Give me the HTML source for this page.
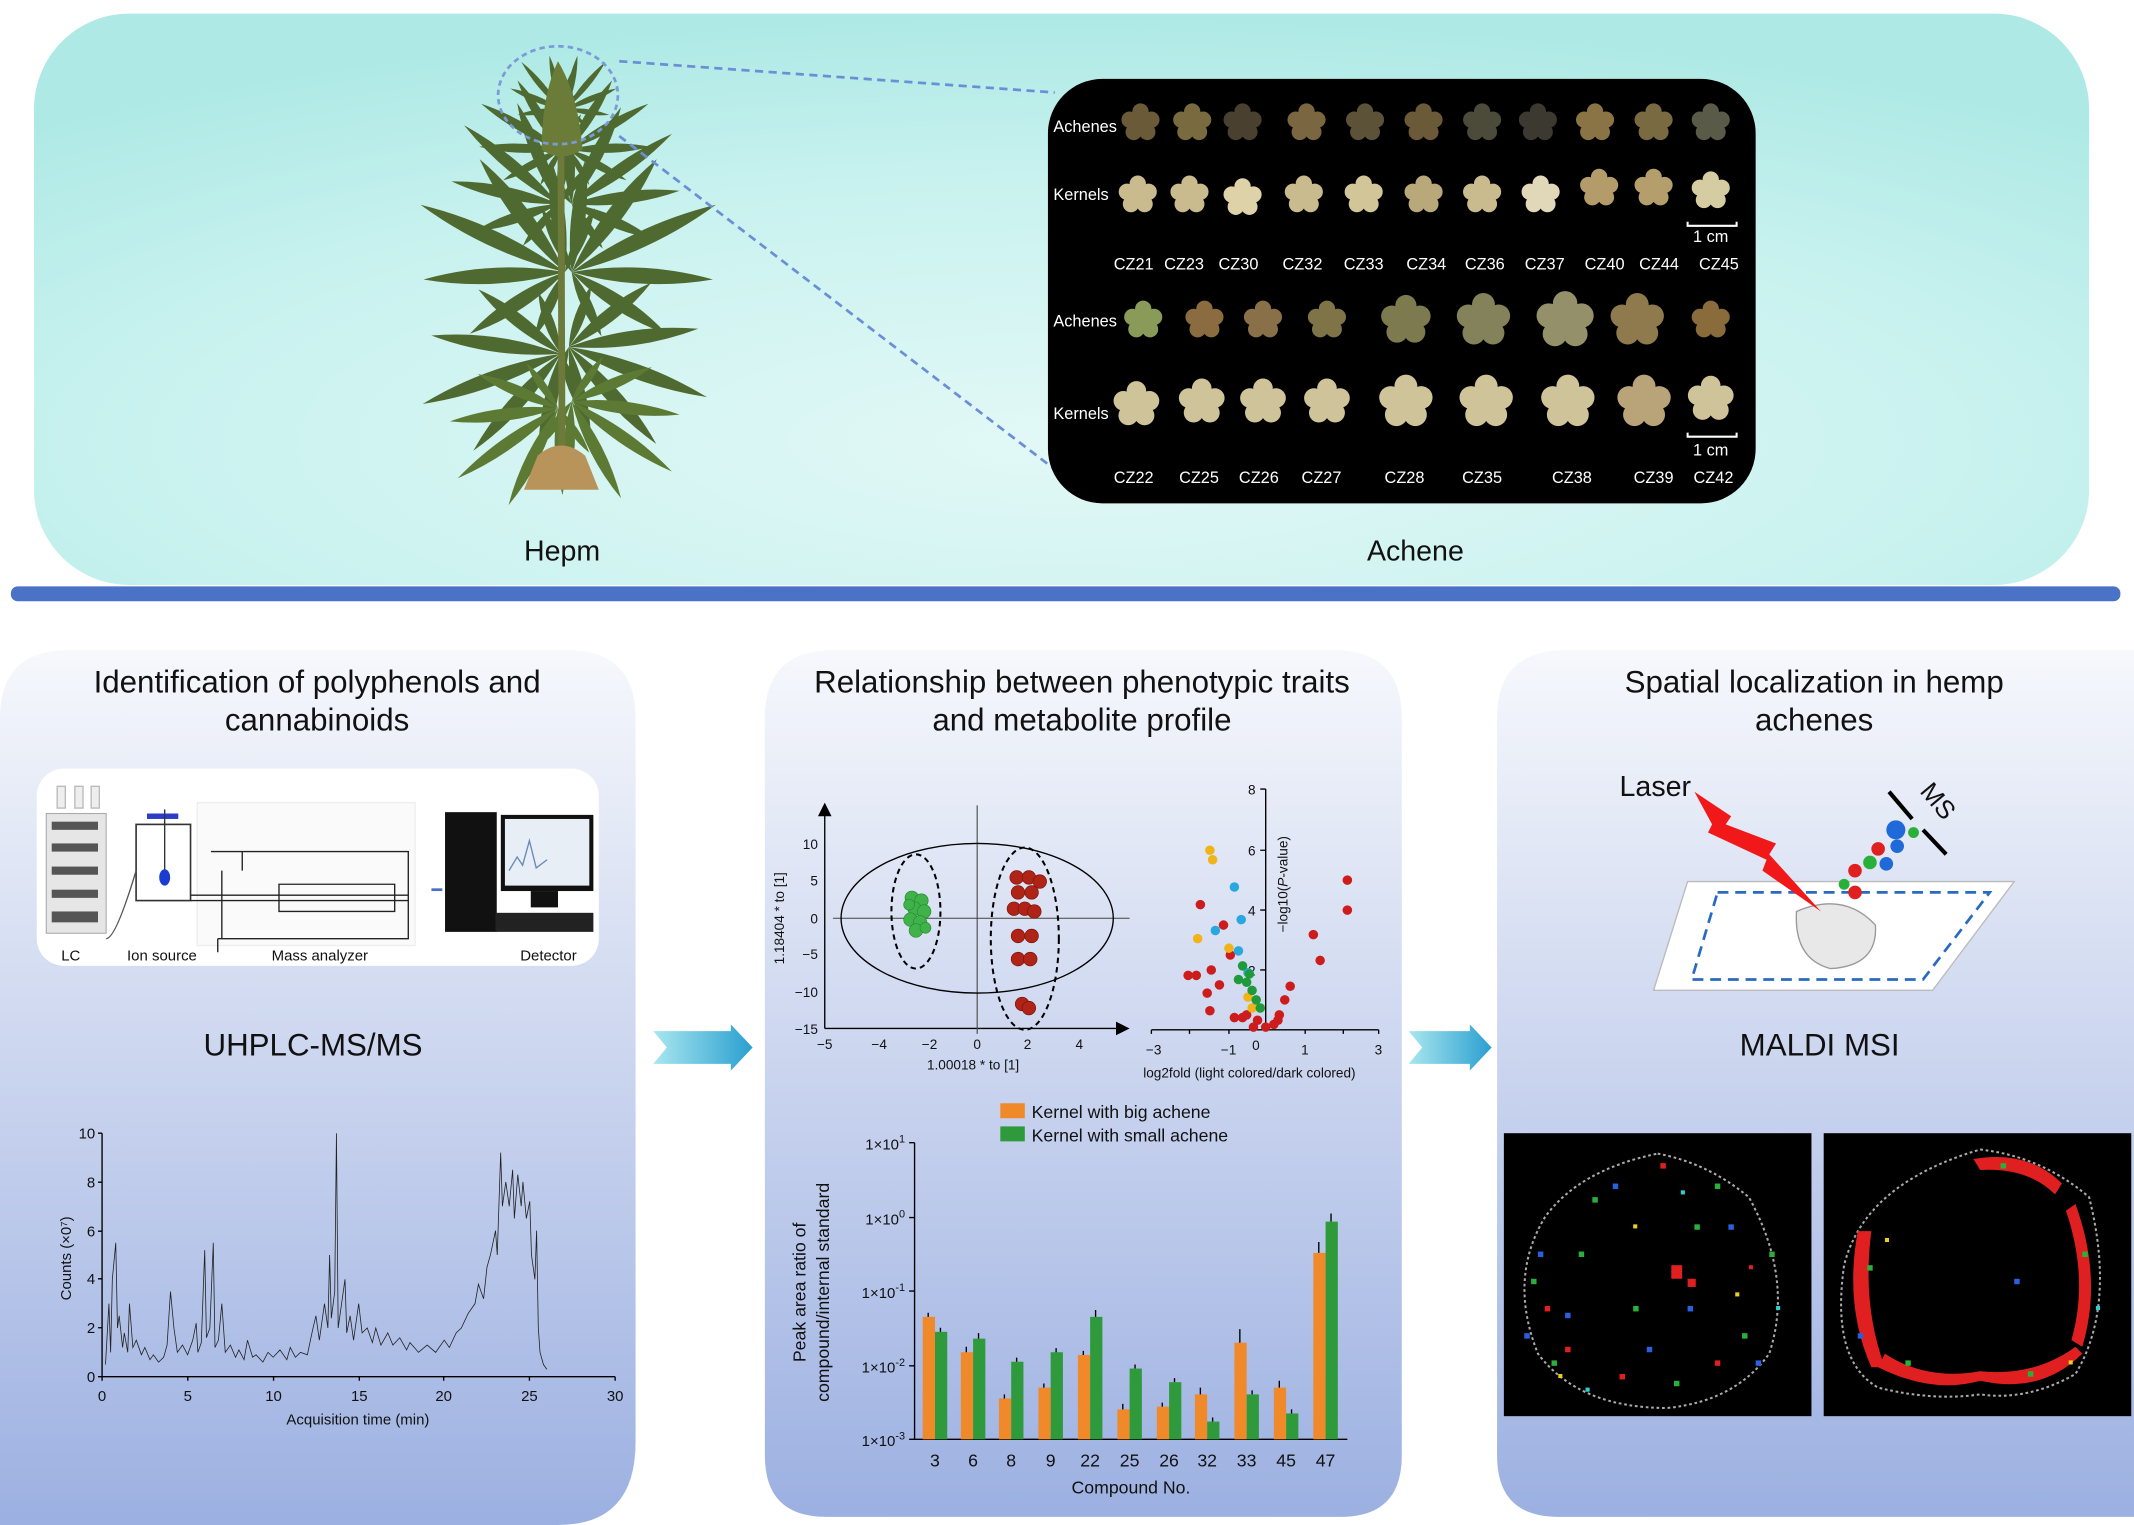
<!DOCTYPE html>
<html><head><meta charset="utf-8"><style>
html,body{margin:0;padding:0;background:#fff;}
svg{display:block;}
text{font-family:"Liberation Sans",Arial,sans-serif;}
</style></head><body>
<svg width="2134" height="1525" viewBox="0 0 1568 1121" preserveAspectRatio="none" xmlns="http://www.w3.org/2000/svg">
<defs>
<radialGradient id="top" cx="0.5" cy="0.75" r="0.75">
<stop offset="0" stop-color="#e2f8f6"/><stop offset="0.6" stop-color="#c9f2ef"/><stop offset="1" stop-color="#aee9e5"/>
</radialGradient>
<linearGradient id="bot" x1="0" y1="0" x2="0" y2="1">
<stop offset="0" stop-color="#f6f8fc"/><stop offset="0.35" stop-color="#d6def2"/><stop offset="1" stop-color="#9cb0e1"/>
</linearGradient>
<linearGradient id="arr" x1="0" y1="0" x2="1" y2="0">
<stop offset="0" stop-color="#a9e7ef"/><stop offset="1" stop-color="#2a9fd0"/>
</linearGradient>
<g id="leaf">
<path d="M0,0 Q9,-45 0,-90 Q-9,-45 0,0Z"/>
<path d="M0,0 Q9,-40 0,-80 Q-9,-40 0,0Z" transform="rotate(-28)"/>
<path d="M0,0 Q9,-40 0,-80 Q-9,-40 0,0Z" transform="rotate(28)"/>
<path d="M0,0 Q8,-32 0,-64 Q-8,-32 0,0Z" transform="rotate(-58)"/>
<path d="M0,0 Q8,-32 0,-64 Q-8,-32 0,0Z" transform="rotate(58)"/>
<path d="M0,0 Q6,-20 0,-40 Q-6,-20 0,0Z" transform="rotate(-90)"/>
<path d="M0,0 Q6,-20 0,-40 Q-6,-20 0,0Z" transform="rotate(90)"/>
</g>
<g id="flw"><circle r="7"/><circle cx="0" cy="-8" r="6"/><circle cx="8" cy="-2" r="6"/><circle cx="5" cy="7" r="6"/><circle cx="-5" cy="7" r="6"/><circle cx="-8" cy="-2" r="6"/></g>
</defs>

<rect x="25" y="10" width="1510" height="420" rx="70" fill="url(#top)"/>
<rect x="8" y="431" width="1550" height="11" rx="5" fill="#4a72c6"/>

<g fill="#4f6a30">
<use href="#leaf" transform="translate(415,200) rotate(-65) scale(1.3)"/>
<use href="#leaf" transform="translate(420,200) rotate(65) scale(1.3)"/>
<use href="#leaf" transform="translate(412,260) rotate(-110) scale(1.2)"/>
<use href="#leaf" transform="translate(418,255) rotate(110) scale(1.2)"/>
<use href="#leaf" transform="translate(410,150) rotate(-50) scale(1.0)"/>
<use href="#leaf" transform="translate(420,150) rotate(55) scale(1.0)"/>
<use href="#leaf" transform="translate(412,110) rotate(-60) scale(0.75)"/>
<use href="#leaf" transform="translate(418,110) rotate(60) scale(0.75)"/>
<use href="#leaf" transform="translate(410,300) rotate(-125) scale(1.0)" fill="#5d7a35"/>
<use href="#leaf" transform="translate(420,295) rotate(125) scale(1.0)" fill="#5d7a35"/>
<use href="#leaf" transform="translate(412,80) rotate(-40) scale(0.5)"/>
<use href="#leaf" transform="translate(416,80) rotate(40) scale(0.5)"/>
</g>
<path d="M413,345 L412,60" stroke="#6d7a3a" stroke-width="5"/>
<path d="M410,45 Q425,70 428,110 Q412,120 398,110 Q398,70 410,45Z" fill="#6b7c38"/>
<path d="M395,335 Q412,320 430,335 L440,360 L385,360Z" fill="#b8935a"/>
<ellipse cx="410" cy="70" rx="44" ry="36" fill="none" stroke="#7a9bd8" stroke-width="2" stroke-dasharray="4,3"/>
<path d="M455,45 L775,68" stroke="#6b8fd6" stroke-width="2" stroke-dasharray="6,4"/>
<path d="M455,100 L775,345" stroke="#6b8fd6" stroke-width="2" stroke-dasharray="6,4"/>
<text x="413" y="412" font-size="21" text-anchor="middle" fill="#111">Hepm</text>
<text x="1040" y="412" font-size="21" text-anchor="middle" fill="#111">Achene</text>

<rect x="770" y="58" width="520" height="312" rx="40" fill="#000"/>
<g font-size="12" fill="#fff">
<text x="774" y="97">Achenes</text><text x="774" y="147">Kernels</text>
<text x="774" y="240">Achenes</text><text x="774" y="308">Kernels</text>
<text x="1244" y="178">1 cm</text><text x="1244" y="335">1 cm</text>
</g>
<path d="M1240,163 v3 h36 v-3 M1240,318 v3 h36 v-3" stroke="#fff" stroke-width="1.5" fill="none"/>
<g fill="#6a5a38">
<use href="#flw" x="838" y="90"/><use href="#flw" x="876" y="90" fill="#7a6a40"/><use href="#flw" x="913" y="90" fill="#4a4030"/><use href="#flw" x="960" y="90" fill="#7a6640"/><use href="#flw" x="1003" y="90" fill="#5c5238"/><use href="#flw" x="1046" y="90"/><use href="#flw" x="1089" y="90" fill="#4c4a38"/><use href="#flw" x="1130" y="90" fill="#3c3a30"/><use href="#flw" x="1172" y="90" fill="#8a7445"/><use href="#flw" x="1215" y="90" fill="#7a6a42"/><use href="#flw" x="1257" y="90" fill="#5a5a48"/>
</g>
<g fill="#c9bb8e">
<use href="#flw" x="836" y="143"/><use href="#flw" x="874" y="143"/><use href="#flw" x="913" y="145" fill="#ddd2a8"/><use href="#flw" x="958" y="143"/><use href="#flw" x="1002" y="143" fill="#d2c598"/><use href="#flw" x="1046" y="143" fill="#b9a87a"/><use href="#flw" x="1089" y="143"/><use href="#flw" x="1132" y="143" fill="#e0d8b8"/><use href="#flw" x="1175" y="138" fill="#b39c6a"/><use href="#flw" x="1215" y="138" fill="#b49f6c"/><use href="#flw" x="1257" y="140" fill="#d6cca2"/>
</g>
<g fill="#7a7a4c">
<use href="#flw" x="840" y="235" fill="#8a9a58"/><use href="#flw" x="885" y="235" fill="#8a6c40"/><use href="#flw" x="928" y="235" fill="#8a7048"/><use href="#flw" x="975" y="235" fill="#7e7448"/><use href="#flw" x="1033" y="235" transform="translate(1033,235) scale(1.3) translate(-1033,-235)" fill="#7c7a4e"/><use href="#flw" x="1090" y="235" transform="translate(1090,235) scale(1.4) translate(-1090,-235)" fill="#84825a"/><use href="#flw" x="1150" y="235" transform="translate(1150,235) scale(1.5) translate(-1150,-235)" fill="#94906a"/><use href="#flw" x="1203" y="235" transform="translate(1203,235) scale(1.4) translate(-1203,-235)" fill="#8e7a4c"/><use href="#flw" x="1257" y="235" fill="#8a6c3c"/>
</g>
<g fill="#cfc39a">
<use href="#flw" x="835" y="297" transform="translate(835,297) scale(1.2) translate(-835,-297)"/><use href="#flw" x="883" y="295" transform="translate(883,295) scale(1.2) translate(-883,-295)"/><use href="#flw" x="928" y="295" transform="translate(928,295) scale(1.2) translate(-928,-295)"/><use href="#flw" x="975" y="295" transform="translate(975,295) scale(1.2) translate(-975,-295)"/><use href="#flw" x="1033" y="295" transform="translate(1033,295) scale(1.4) translate(-1033,-295)"/><use href="#flw" x="1092" y="295" transform="translate(1092,295) scale(1.4) translate(-1092,-295)"/><use href="#flw" x="1152" y="295" transform="translate(1152,295) scale(1.4) translate(-1152,-295)"/><use href="#flw" x="1208" y="295" transform="translate(1208,295) scale(1.4) translate(-1208,-295)" fill="#b8a478"/><use href="#flw" x="1257" y="293" transform="translate(1257,293) scale(1.2) translate(-1257,-293)"/>
</g>
<g font-size="12" fill="#fff" text-anchor="middle">
<text x="833" y="198">CZ21</text><text x="870" y="198">CZ23</text><text x="910" y="198">CZ30</text><text x="957" y="198">CZ32</text><text x="1002" y="198">CZ33</text><text x="1048" y="198">CZ34</text><text x="1091" y="198">CZ36</text><text x="1135" y="198">CZ37</text><text x="1179" y="198">CZ40</text><text x="1219" y="198">CZ44</text><text x="1263" y="198">CZ45</text>
<text x="833" y="355">CZ22</text><text x="881" y="355">CZ25</text><text x="925" y="355">CZ26</text><text x="971" y="355">CZ27</text><text x="1032" y="355">CZ28</text><text x="1089" y="355">CZ35</text><text x="1155" y="355">CZ38</text><text x="1215" y="355">CZ39</text><text x="1259" y="355">CZ42</text>
</g>

<path d="M0,528 Q0,478 50,478 H417 Q467,478 467,528 V1060 Q467,1121 410,1121 H0Z" fill="url(#bot)"/>
<path d="M612,478 H980 Q1030,478 1030,528 V1070 Q1030,1115 985,1115 H607 Q562,1115 562,1070 V528 Q562,478 612,478Z" fill="url(#bot)"/>
<path d="M1150,478 H1568 V1115 H1145 Q1100,1115 1100,1070 V528 Q1100,478 1150,478Z" fill="url(#bot)"/>
<path d="M480,758 H537 V753 L553,770 L537,787 V782 H480 L490,770Z" fill="url(#arr)"/>
<path d="M1035,758 H1080 V753 L1096,770 L1080,787 V782 H1035 L1045,770Z" fill="url(#arr)"/>

<g font-size="23" fill="#111" text-anchor="middle">
<text x="233" y="509">Identification of polyphenols and</text><text x="233" y="537">cannabinoids</text>
<text x="795" y="509">Relationship between phenotypic traits</text><text x="795" y="537">and metabolite profile</text>
<text x="1333" y="509">Spatial localization in hemp</text><text x="1333" y="537">achenes</text>
<text x="230" y="776">UHPLC-MS/MS</text>
<text x="1337" y="776">MALDI MSI</text>
</g>

<rect x="27" y="565" width="413" height="145" rx="20" fill="#fff"/>
<g fill="#e6e6e6" stroke="#aaa" stroke-width="0.8">
<rect x="34" y="598" width="44" height="88"/>
</g>
<g fill="#555"><rect x="38" y="604" width="34" height="6"/><rect x="38" y="620" width="34" height="6"/><rect x="38" y="637" width="34" height="6"/><rect x="38" y="654" width="34" height="6"/><rect x="38" y="670" width="34" height="8"/></g>
<rect x="42" y="578" width="6" height="16" fill="#eee" stroke="#bbb"/><rect x="55" y="578" width="6" height="16" fill="#eee" stroke="#bbb"/><rect x="67" y="578" width="6" height="16" fill="#eee" stroke="#bbb"/>
<rect x="108" y="598" width="23" height="4" fill="#2a3cc8"/>
<rect x="100" y="606" width="40" height="56" fill="none" stroke="#333" stroke-width="1.2"/>
<line x1="121" y1="595" x2="121" y2="640" stroke="#333"/><ellipse cx="121" cy="645" rx="4" ry="6" fill="#1a3cd0"/>
<path d="M100,640 Q85,690 78,690" fill="none" stroke="#555"/>
<rect x="145" y="590" width="160" height="105" fill="#fafafa" stroke="#eee"/>
<g fill="none" stroke="#222" stroke-width="1">
<path d="M155,626 H300 V690 H160 M160,690 V700 M178,626 V640 M163,640 V690"/>
<path d="M140,658 H300 M140,662 H300"/>
<path d="M205,650 H290 V670 H205Z"/>
</g>
<path d="M317,654 h8" stroke="#4a6fc8" stroke-width="2"/>
<rect x="327" y="597" width="38" height="88" fill="#111"/>
<rect x="368" y="599" width="68" height="56" fill="#111"/><rect x="371" y="602" width="62" height="49" fill="#e8eef6"/>
<path d="M374,640 l6,-10 l4,6 l5,-18 l5,20 l8,-6" stroke="#6a8ab8" fill="none"/>
<rect x="390" y="655" width="20" height="12" fill="#111"/><rect x="364" y="671" width="72" height="14" fill="#222"/>
<g font-size="11" fill="#111" text-anchor="middle"><text x="52" y="706">LC</text><text x="119" y="706">Ion source</text><text x="235" y="706">Mass analyzer</text><text x="403" y="706">Detector</text></g>

<g stroke="#000" stroke-width="1" fill="none"><path d="M75,833 V1012 H452"/></g>
<g font-size="11" fill="#111" text-anchor="end">
<text x="70" y="837">10</text><text x="70" y="873">8</text><text x="70" y="909">6</text><text x="70" y="944">4</text><text x="70" y="980">2</text><text x="70" y="1016">0</text></g>
<g stroke="#000"><path d="M72,833h3M72,869h3M72,905h3M72,940h3M72,976h3M72,1012h3"/><path d="M75,1012v3M138,1012v3M201,1012v3M264,1012v3M326,1012v3M389,1012v3M452,1012v3"/></g>
<g font-size="11" fill="#111" text-anchor="middle"><text x="75" y="1030">0</text><text x="138" y="1030">5</text><text x="201" y="1030">10</text><text x="264" y="1030">15</text><text x="326" y="1030">20</text><text x="389" y="1030">25</text><text x="452" y="1030">30</text>
<text x="263" y="1047">Acquisition time (min)</text></g>
<text transform="translate(52,925) rotate(-90)" font-size="11" text-anchor="middle" fill="#111">Counts (×0⁷)</text>
<g transform="translate(75,1012) scale(12.57,-17.9)">
<polyline vector-effect="non-scaling-stroke" fill="none" stroke="#222" stroke-width="0.8" points="0.2,0.5 0.4,3 0.5,1 0.6,4 0.8,5.5 0.9,2 1,2.5 1.2,1.2 1.3,1.8 1.5,1 1.6,3 1.8,1.2 2,1.5 2.3,0.9 2.5,1.2 2.8,0.7 3,0.9 3.3,0.6 3.6,0.8 3.8,1.3 4,3.5 4.2,2 4.4,1 4.7,1.3 5,0.9 5.3,1.5 5.5,2.2 5.6,1 5.8,1.4 6,5.2 6.1,1.6 6.3,2 6.5,5.5 6.6,1.2 6.8,1.5 7,3 7.2,1 7.5,1.3 7.8,0.8 8,1.1 8.3,0.7 8.5,1.5 8.8,0.8 9,0.9 9.4,0.6 9.7,1 10,0.8 10.4,1.1 10.8,0.7 11,1.2 11.3,0.8 11.6,1 12,0.9 12.3,1.9 12.5,2.5 12.7,1.5 13,3 13.2,2 13.3,5 13.4,2.4 13.6,3.5 13.7,10 13.8,2 14,3 14.2,4 14.3,1.8 14.5,2.5 14.7,1.5 15,3 15.2,1.8 15.5,2 15.8,1.4 16,2 16.3,1.3 16.7,1.8 17,1.3 17.4,1.6 17.8,1.1 18,1.4 18.5,1 19,1.3 19.5,1 20,1.5 20.3,1.2 20.7,1.8 21,2 21.4,2.6 21.8,3 22,3.8 22.3,3.2 22.5,4.5 22.7,5 23,6 23.1,5 23.3,9.2 23.4,7 23.6,8 23.8,7 24,8.5 24.1,6.5 24.3,8.3 24.5,7 24.6,8 24.8,6.5 25,7.2 25.1,5 25.3,4 25.4,6 25.5,2 25.6,1 25.8,0.5 26,0.3"/>
</g>

<g stroke="#000" stroke-width="1" fill="none">
<path d="M606,756 H823"/><path d="M606,595 V756"/>
<path d="M718,592 V760" stroke="#444" stroke-width="0.8"/><path d="M612,675 H830" stroke="#444" stroke-width="0.8"/>
<ellipse cx="718" cy="675" rx="100" ry="55"/>
<ellipse cx="673" cy="670" rx="18" ry="42" stroke-dasharray="4,3" stroke-width="1.5"/>
<ellipse cx="753" cy="690" rx="25" ry="67" stroke-dasharray="4,3" stroke-width="1.5"/>
</g>
<path d="M601,600 L606,590 L611,600Z M820,751 L830,756 L820,761Z" fill="#000"/>
<g font-size="10" fill="#111" text-anchor="end"><text x="601" y="624">10</text><text x="601" y="651">5</text><text x="601" y="679">0</text><text x="601" y="705">−5</text><text x="601" y="733">−10</text><text x="601" y="760">−15</text></g>
<g font-size="10" fill="#111" text-anchor="middle"><text x="606" y="771">−5</text><text x="646" y="771">−4</text><text x="683" y="771">−2</text><text x="718" y="771">0</text><text x="755" y="771">2</text><text x="793" y="771">4</text><text x="715" y="786">1.00018 * to [1]</text></g>
<text transform="translate(576,675) rotate(-90)" font-size="10" text-anchor="middle" fill="#111">1.18404 * to [1]</text>
<g fill="#3fb34a" stroke="#2a8a34" stroke-width="0.5">
<circle cx="670" cy="660" r="5"/><circle cx="677" cy="662" r="5"/><circle cx="672" cy="668" r="5"/><circle cx="679" cy="670" r="5"/><circle cx="669" cy="676" r="5"/><circle cx="676" cy="678" r="5"/><circle cx="673" cy="684" r="5"/><circle cx="680" cy="682" r="4"/><circle cx="668" cy="665" r="4"/>
</g>
<g fill="#b02418" stroke="#7a140c" stroke-width="0.5">
<circle cx="747" cy="645" r="5"/><circle cx="756" cy="645" r="5"/><circle cx="764" cy="648" r="5"/><circle cx="748" cy="656" r="5"/><circle cx="758" cy="656" r="5"/><circle cx="745" cy="668" r="5"/><circle cx="753" cy="668" r="5"/><circle cx="760" cy="670" r="5"/><circle cx="748" cy="688" r="5"/><circle cx="758" cy="688" r="5"/><circle cx="748" cy="705" r="5"/><circle cx="757" cy="705" r="5"/><circle cx="751" cy="738" r="5"/><circle cx="756" cy="741" r="5"/>
</g>

<g stroke="#000" stroke-width="1" fill="none"><path d="M930,580 V757 M846,757 H1013"/>
<path d="M926,580h4M926,625h4M926,669h4M926,713h4M846,757v3M874,757v3M903,757v3M959,757v3M987,757v3M1013,757v3"/></g>
<g font-size="10" fill="#111"><text x="917" y="584">8</text><text x="917" y="629">6</text><text x="917" y="673">4</text><text x="917" y="717">2</text><text x="920" y="772">0</text>
<text x="842" y="775">−3</text><text x="897" y="775">−1</text><text x="956" y="775">1</text><text x="1010" y="775">3</text>
<text x="840" y="792">log2fold (light colored/dark colored)</text></g>
<text transform="translate(946,650) rotate(-90)" font-size="10" text-anchor="middle" fill="#111">−log10(<tspan font-style="italic">P</tspan>-value)</text>
<g fill="#cc1c1c"><circle cx="990" cy="647" r="3.5"/><circle cx="990" cy="669" r="3.5"/><circle cx="965" cy="687" r="3.5"/><circle cx="970" cy="706" r="3.5"/><circle cx="948" cy="725" r="3.5"/><circle cx="944" cy="735" r="3.5"/><circle cx="940" cy="746" r="3.5"/><circle cx="936" cy="753" r="3.5"/><circle cx="930" cy="755" r="3.5"/><circle cx="921" cy="755" r="3.5"/><circle cx="913" cy="748" r="3.5"/><circle cx="896" cy="724" r="3.5"/><circle cx="887" cy="730" r="3.5"/><circle cx="879" cy="717" r="3.5"/><circle cx="873" cy="717" r="3.5"/><circle cx="889" cy="743" r="3.5"/><circle cx="890" cy="713" r="3.5"/><circle cx="904" cy="702" r="3.5"/><circle cx="899" cy="680" r="3.5"/><circle cx="882" cy="665" r="3.5"/><circle cx="916" cy="746" r="3.5"/><circle cx="924" cy="750" r="3.5"/><circle cx="939" cy="750" r="3.5"/><circle cx="907" cy="748" r="3.5"/></g>
<g fill="#f0b419"><circle cx="889" cy="625" r="3.5"/><circle cx="891" cy="632" r="3.5"/><circle cx="880" cy="690" r="3.5"/><circle cx="903" cy="697" r="3.5"/><circle cx="917" cy="733" r="3.5"/><circle cx="920" cy="741" r="3.5"/></g>
<g fill="#29a8e0"><circle cx="907" cy="652" r="3.5"/><circle cx="893" cy="684" r="3.5"/><circle cx="912" cy="676" r="3.5"/><circle cx="910" cy="699" r="3.5"/><circle cx="917" cy="715" r="3.5"/></g>
<g fill="#1e9a3a"><circle cx="913" cy="710" r="3.5"/><circle cx="918" cy="716" r="3.5"/><circle cx="916" cy="722" r="3.5"/><circle cx="920" cy="728" r="3.5"/><circle cx="923" cy="735" r="3.5"/><circle cx="910" cy="720" r="3.5"/><circle cx="926" cy="741" r="3.5"/></g>

<rect x="735" y="811" width="18" height="11" fill="#f0892a"/><rect x="735" y="828" width="18" height="11" fill="#2f9a3c"/>
<g font-size="13" fill="#111"><text x="758" y="822">Kernel with big achene</text><text x="758" y="839">Kernel with small achene</text></g>
<g stroke="#000" stroke-width="1" fill="none"><path d="M672,840 V1058 H990"/>
<path d="M668,840h4M668,895h4M668,949h4M668,1004h4M668,1058h4"/></g>
<g font-size="11" fill="#111" text-anchor="end"><text x="665" y="845">1×10<tspan font-size="8" dy="-5">1</tspan></text><text x="665" y="900">1×10<tspan font-size="8" dy="-5">0</tspan></text><text x="665" y="954">1×10<tspan font-size="8" dy="-5">-1</tspan></text><text x="665" y="1009">1×10<tspan font-size="8" dy="-5">-2</tspan></text><text x="665" y="1063">1×10<tspan font-size="8" dy="-5">-3</tspan></text></g>
<text transform="translate(592,950) rotate(-90)" font-size="13" text-anchor="middle" fill="#111">Peak area ratio of</text>
<text transform="translate(609,950) rotate(-90)" font-size="13" text-anchor="middle" fill="#111">compound/internal standard</text>
<g fill="#f0892a">
<rect x="678" y="968" width="9" height="90"/><rect x="706" y="994" width="9" height="64"/><rect x="734" y="1028" width="9" height="30"/><rect x="763" y="1020" width="9" height="38"/><rect x="792" y="996" width="9" height="62"/><rect x="821" y="1036" width="9" height="22"/><rect x="850" y="1034" width="9" height="24"/><rect x="878" y="1025" width="9" height="33"/><rect x="907" y="987" width="9" height="71"/><rect x="936" y="1020" width="9" height="38"/><rect x="965" y="921" width="9" height="137"/>
</g>
<g fill="#2f9a3c">
<rect x="687" y="979" width="9" height="79"/><rect x="715" y="984" width="9" height="74"/><rect x="743" y="1001" width="9" height="57"/><rect x="772" y="994" width="9" height="64"/><rect x="801" y="968" width="9" height="90"/><rect x="830" y="1006" width="9" height="52"/><rect x="859" y="1016" width="9" height="42"/><rect x="887" y="1045" width="9" height="13"/><rect x="916" y="1025" width="9" height="33"/><rect x="945" y="1039" width="9" height="19"/><rect x="974" y="898" width="9" height="160"/>
</g>
<g stroke="#000" stroke-width="1" fill="none">
<path d="M682,968v-3M691,979v-3M710,994v-4M719,984v-4M738,1028v-3M747,1001v-3M767,1020v-3M776,994v-3M796,996v-3M805,968v-5M825,1036v-4M834,1006v-3M854,1034v-3M863,1016v-3M882,1025v-5M891,1045v-3M911,987v-10M920,1025v-3M940,1020v-5M949,1039v-3M969,921v-8M978,898v-6"/>
</g>
<g font-size="13" fill="#111" text-anchor="middle"><text x="687" y="1078">3</text><text x="715" y="1078">6</text><text x="743" y="1078">8</text><text x="772" y="1078">9</text><text x="801" y="1078">22</text><text x="830" y="1078">25</text><text x="859" y="1078">26</text><text x="887" y="1078">32</text><text x="916" y="1078">33</text><text x="945" y="1078">45</text><text x="974" y="1078">47</text>
<text x="831" y="1098">Compound No.</text></g>

<path d="M1240,648 H1480 L1420,728 H1215Z" fill="#fff" stroke="#bbb"/>
<path d="M1262,656 H1462 L1413,720 H1243Z" fill="none" stroke="#2a6ac0" stroke-width="2" stroke-dasharray="8,5"/>
<path d="M1320,670 Q1355,655 1378,680 Q1380,710 1345,712 Q1318,705 1320,670Z" fill="#e8e8e8" stroke="#999"/>
<path d="M1245,582 L1272,600 L1268,606 L1305,620 L1300,628 L1338,670 L1295,640 L1298,632 L1255,612 L1258,606Z" fill="#f01818"/>
<text x="1190" y="585" font-size="21" fill="#111">Laser</text>
<circle cx="1363" cy="656" r="5" fill="#e02020"/><circle cx="1355" cy="650" r="4" fill="#2ab03a"/><circle cx="1363" cy="640" r="5" fill="#e02020"/><circle cx="1374" cy="634" r="5" fill="#2ab03a"/><circle cx="1386" cy="635" r="5" fill="#1f6ad8"/><circle cx="1380" cy="624" r="5" fill="#e02020"/><circle cx="1394" cy="622" r="5" fill="#1f6ad8"/><circle cx="1393" cy="610" r="7" fill="#1f6ad8"/><circle cx="1406" cy="612" r="4" fill="#2ab03a"/>
<path d="M1388,582 L1405,602 M1413,610 L1430,628" stroke="#000" stroke-width="3"/>
<text transform="translate(1410,582) rotate(50)" font-size="19" fill="#111">MS</text>

<rect x="1105" y="833" width="226" height="208" fill="#000"/>
<rect x="1340" y="833" width="226" height="208" fill="#000"/>
<path d="M1218,848 Q1255,855 1285,880 Q1318,940 1300,995 Q1275,1030 1225,1035 Q1160,1035 1130,995 Q1108,940 1135,895 Q1160,860 1218,848Z" fill="none" stroke="#aaa" stroke-width="1.5" stroke-dasharray="2,2"/>
<path d="M1455,845 Q1500,850 1535,880 Q1555,960 1525,1010 Q1490,1030 1455,1025 Q1420,1030 1380,1020 Q1345,1000 1355,930 Q1370,870 1455,845Z" fill="none" stroke="#aaa" stroke-width="1.5" stroke-dasharray="2,2"/>
<g fill="#e02020">
<rect x="1228" y="930" width="8" height="10"/><rect x="1240" y="940" width="6" height="6"/><rect x="1220" y="855" width="4" height="4"/><rect x="1150" y="990" width="4" height="4"/><rect x="1260" y="1000" width="4" height="4"/><rect x="1190" y="1010" width="4" height="4"/><rect x="1285" y="930" width="3" height="3"/><rect x="1135" y="960" width="4" height="4"/>
<path d="M1450,852 Q1490,845 1515,870 L1510,878 Q1490,858 1455,860Z"/>
<path d="M1365,905 Q1355,960 1375,1005 L1385,1005 Q1368,960 1375,905Z"/>
<path d="M1380,1005 Q1420,1025 1455,1015 Q1500,1025 1530,995 L1525,990 Q1495,1012 1455,1008 Q1415,1015 1385,995Z"/>
<path d="M1525,885 Q1545,940 1530,990 L1522,985 Q1535,940 1518,890Z"/>
</g>
<g fill="#2ab03a">
<rect x="1170" y="880" width="4" height="4"/><rect x="1260" y="870" width="4" height="4"/><rect x="1125" y="940" width="4" height="4"/><rect x="1200" y="960" width="4" height="4"/><rect x="1280" y="980" width="4" height="4"/><rect x="1140" y="1000" width="4" height="4"/><rect x="1230" y="1015" width="4" height="4"/><rect x="1300" y="920" width="4" height="4"/><rect x="1160" y="920" width="4" height="4"/><rect x="1245" y="900" width="4" height="4"/>
<rect x="1372" y="930" width="4" height="4"/><rect x="1530" y="920" width="4" height="4"/><rect x="1400" y="1000" width="4" height="4"/><rect x="1490" y="1008" width="4" height="4"/><rect x="1470" y="855" width="4" height="4"/>
</g>
<g fill="#2a60e0">
<rect x="1185" y="870" width="4" height="4"/><rect x="1130" y="920" width="4" height="4"/><rect x="1210" y="990" width="4" height="4"/><rect x="1270" y="900" width="4" height="4"/><rect x="1150" y="965" width="4" height="4"/><rect x="1290" y="1000" width="4" height="4"/><rect x="1240" y="960" width="4" height="4"/><rect x="1120" y="980" width="4" height="4"/><rect x="1480" y="940" width="4" height="4"/><rect x="1365" y="980" width="4" height="4"/>
</g>
<g fill="#e8d020"><rect x="1200" y="900" width="3" height="3"/><rect x="1145" y="1010" width="3" height="3"/><rect x="1275" y="950" width="3" height="3"/><rect x="1385" y="910" width="3" height="3"/><rect x="1520" y="1000" width="3" height="3"/></g>
<g fill="#30d0d0"><rect x="1235" y="875" width="3" height="3"/><rect x="1165" y="1020" width="3" height="3"/><rect x="1305" y="960" width="3" height="3"/><rect x="1540" y="960" width="3" height="3"/></g>
</svg>
</body></html>
